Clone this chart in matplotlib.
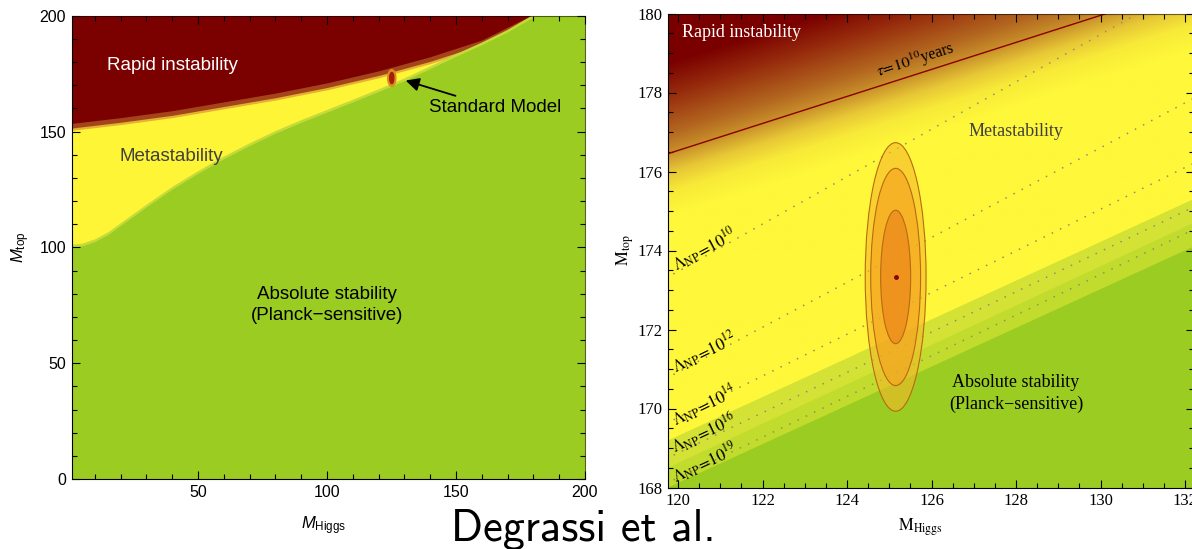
import numpy as np
import matplotlib.pyplot as plt
from matplotlib.colors import LinearSegmentedColormap
from matplotlib.patches import Ellipse
from matplotlib.ticker import MultipleLocator

plt.rcParams['mathtext.fontset'] = 'custom'
plt.rcParams['mathtext.rm'] = 'Liberation Sans'
plt.rcParams['mathtext.it'] = 'Liberation Sans:italic'

## Left panel: phase boundaries in the (M_Higgs, M_top) plane
mh_instab = [1, 20, 40, 60, 80, 100, 120, 140, 160, 180, 200]
mt_instab = [153.5, 156.0, 159.0, 162.8, 166.6, 171.0, 176.2, 182.3, 189.5, 200.6, 212.0]
mh_stab = [1, 5, 10, 15, 20, 30, 40, 50, 60, 70, 80, 90, 100, 110, 120,
           130, 140, 150, 160, 170, 180, 200]
mt_stab = [100.2, 100.6, 102.5, 105.5, 109.5, 117.5, 125.2, 132.0, 138.3, 144.0,
           149.3, 154.0, 158.4, 162.8, 167.3, 172.0, 177.2, 182.5, 187.5, 193.0, 199.5, 212.0]
sm_point = (125.1, 173.1)

## Right panel: zoom around the measured point
band_mh = [119.7, 132.3]
band_light = [169.16, 175.35]
band_mid = [168.47, 174.75]
band_stable = [167.97, 174.15]
tau_mh = [119.7, 132.3]
tau_mt = [176.43, 180.74]
lambda_exp = ['10', '12', '14', '16', '19']
lambda_mt_left = [173.29, 170.75, 169.61, 168.72, 168.09]
lambda_mt_right = [180.85, 177.91, 176.26, 175.15, 174.58]
lambda_label_mh = [120.64, 120.62, 120.62, 120.62, 120.64]
lambda_label_mt = [174.03, 171.42, 170.07, 169.39, 168.63]
lambda_label_rot = [28, 26, 26, 25, 25]
fit_center = (125.15, 173.33)
fit_widths = [1.44, 1.18, 0.71]
fit_heights = [6.8, 5.5, 3.38]

# colours
DARKRED = '#7b0000'
BROWN = '#a4441a'
GOLD = '#e6b032'
YELLOW = '#fdf535'
LIGHTGREEN = '#c6da3a'
GREEN = '#9bcc22'

fig = plt.figure(figsize=(11.92, 5.49), dpi=100)
ax1 = fig.add_axes([71.6 / 1192, 1 - 479 / 549, 513.4 / 1192, 463.3 / 549])
ax2 = fig.add_axes([668 / 1192, 1 - 487.5 / 549, 526 / 1192, 474 / 549])

## ---- left panel ----
xi, yi = np.array(mh_instab), np.array(mt_instab)
xs, ys = np.array(mh_stab), np.array(mt_stab)
ax1.set_facecolor(YELLOW)
ax1.fill_between(xi, yi - 3.0, 220, color=GOLD, lw=0)
ax1.fill_between(xi, yi - 2.0, 220, color=BROWN, lw=0)
ax1.fill_between(xi, yi, 220, color=DARKRED, lw=0)
ax1.fill_between(xs, 0, ys + 1.2, color=LIGHTGREEN, lw=0)
ax1.fill_between(xs, 0, ys, color=GREEN, lw=0)
ax1.add_patch(Ellipse(sm_point, 3.2, 7.2, color='#e08a20', zorder=3))
ax1.add_patch(Ellipse(sm_point, 1.6, 4.8, color='#a02008', zorder=3))

ax1.set_xlim(1, 200)
ax1.set_ylim(0, 200)
ax1.xaxis.set_major_locator(MultipleLocator(50))
ax1.xaxis.set_minor_locator(MultipleLocator(10))
ax1.yaxis.set_major_locator(MultipleLocator(50))
ax1.yaxis.set_minor_locator(MultipleLocator(10))
ax1.tick_params(which='both', direction='in', top=True, right=True, width=0.8,
                labelsize=11.5)
ax1.tick_params(which='major', length=6, pad=4)
ax1.tick_params(which='minor', length=3.5)
for lab in ax1.get_xticklabels() + ax1.get_yticklabels():
    lab.set_family('Liberation Sans')
for s in ['top', 'right']:
    ax1.spines[s].set_color((0, 0, 0, 0.55))

sans = dict(family='Liberation Sans', ha='center', va='center', fontsize=13.5)
ax1.text(39.9, 178.7, 'Rapid instability', color='white', **sans)
ax1.text(39.8, 139.4, 'Metastability', color='#404040', **sans)
ax1.text(100, 75.1, 'Absolute stability\n(Planck\u2212sensitive)', color='black',
         linespacing=1.25, **sans)
ax1.annotate('Standard Model', xy=(130.5, 172.0), xytext=(165.1, 160.2),
             arrowprops=dict(arrowstyle='-|>', color='black', lw=1.3,
                             mutation_scale=20, shrinkB=0),
             **sans)
ax1.set_xlabel(r'$M_{\mathrm{Higgs}}$', fontsize=12, va='center')
ax1.xaxis.set_label_coords(0.49, -0.1)
ax1.set_ylabel(r'$M_{\mathrm{top}}$', fontsize=12, va='center')
ax1.yaxis.set_label_coords(-0.1, 0.5)

## ---- right panel ----
x0, x1 = 119.763, 132.21
gx = np.linspace(x0, x1, 500)
gy = np.linspace(168, 180, 500)
GX, GY = np.meshgrid(gx, gy)
slope = (tau_mt[1] - tau_mt[0]) / (tau_mh[1] - tau_mh[0])
D = GY - (tau_mt[0] + slope * (GX - tau_mh[0]))
dmin, dmax = -1.6, 2.3
nodes = [(-1.6, '#fef73a'), (-1.0, '#f8ea38'), (-0.5, '#e8c836'), (0.0, '#c8902a'),
         (0.5, '#b46820'), (1.5, '#962a0c'), (2.3, '#7a0000')]
cmap = LinearSegmentedColormap.from_list(
    'decay', [((d - dmin) / (dmax - dmin), c) for d, c in nodes])
ax2.imshow(D, cmap=cmap, vmin=dmin, vmax=dmax, extent=[x0, x1, 168, 180],
           origin='lower', aspect='auto', interpolation='bilinear', zorder=0)

ax2.fill_between(band_mh, 160, band_light, color='#d4e236', lw=0, zorder=1)
ax2.fill_between(band_mh, 160, band_mid, color='#c2dc2e', lw=0, zorder=1)
ax2.fill_between(band_mh, 160, band_stable, color=GREEN, lw=0, zorder=1)

for yl, yr in zip(lambda_mt_left, lambda_mt_right):
    ax2.plot(band_mh, [yl, yr], color='#8f8f70', lw=1.1, ls=(0, (1, 5)), zorder=2)
ax2.plot(tau_mh, tau_mt, color='#8b0000', lw=1.0, zorder=2)

for w, h, c in zip(fit_widths, fit_heights, ['#f5b82a', '#f7a020', '#e8801a']):
    ax2.add_patch(Ellipse(fit_center, w, h, facecolor=c, alpha=0.6, zorder=3))
    ax2.add_patch(Ellipse(fit_center, w, h, facecolor='none', edgecolor='#b86a10',
                          lw=0.8, zorder=3))
ax2.plot(*fit_center, 'o', color='#8b0000', ms=2.5, zorder=4)

ax2.set_xlim(x0, x1)
ax2.set_ylim(168, 180)
ax2.xaxis.set_major_locator(MultipleLocator(2))
ax2.xaxis.set_minor_locator(MultipleLocator(0.5))
ax2.yaxis.set_major_locator(MultipleLocator(2))
ax2.yaxis.set_minor_locator(MultipleLocator(0.5))
ax2.tick_params(which='both', direction='in', top=True, right=True, width=0.8,
                labelsize=12)
ax2.tick_params(which='major', length=6, pad=4)
ax2.tick_params(which='minor', length=3.5)
for lab in ax2.get_xticklabels() + ax2.get_yticklabels():
    lab.set_family('Liberation Serif')
for s in ['top', 'right']:
    ax2.spines[s].set_color((0, 0, 0, 0.55))

serif = dict(family='Liberation Serif', ha='center', va='center', fontsize=13,
             math_fontfamily='stix')
ax2.text(121.51, 179.51, 'Rapid instability', color='white', **serif)
ax2.text(127.99, 177.01, 'Metastability', color='#404040', **serif)
ax2.text(128.0, 170.39, 'Absolute stability\n(Planck\u2212sensitive)', color='black',
         linespacing=1.35, **serif)
ax2.text(125.63, 178.82, r'$\tau\!=\!10^{10}$years', rotation=17.7,
         **{**serif, 'fontsize': 11.5})
for e, mx, my, rot in zip(lambda_exp, lambda_label_mh, lambda_label_mt, lambda_label_rot):
    ax2.text(mx, my, r'$\Lambda_{\mathrm{NP}}\!=\!10^{%s}$' % e, rotation=rot,
             **{**serif, 'fontsize': 12})
ax2.set_xlabel(r'$\mathrm{M}_{\mathrm{Higgs}}$', fontsize=12, va='center',
               math_fontfamily='stix')
ax2.xaxis.set_label_coords(0.479, -0.084)
ax2.set_ylabel(r'$\mathrm{M}_{\mathrm{top}}$', fontsize=12, va='center',
               math_fontfamily='stix')
ax2.yaxis.set_label_coords(-0.082, 0.5)

fig.text(583 / 1192, 1 - 540 / 549, 'Degrassi et al.', family='cmss10', fontsize=32,
         ha='center', va='baseline')

fig.savefig('out.png', dpi=100)
